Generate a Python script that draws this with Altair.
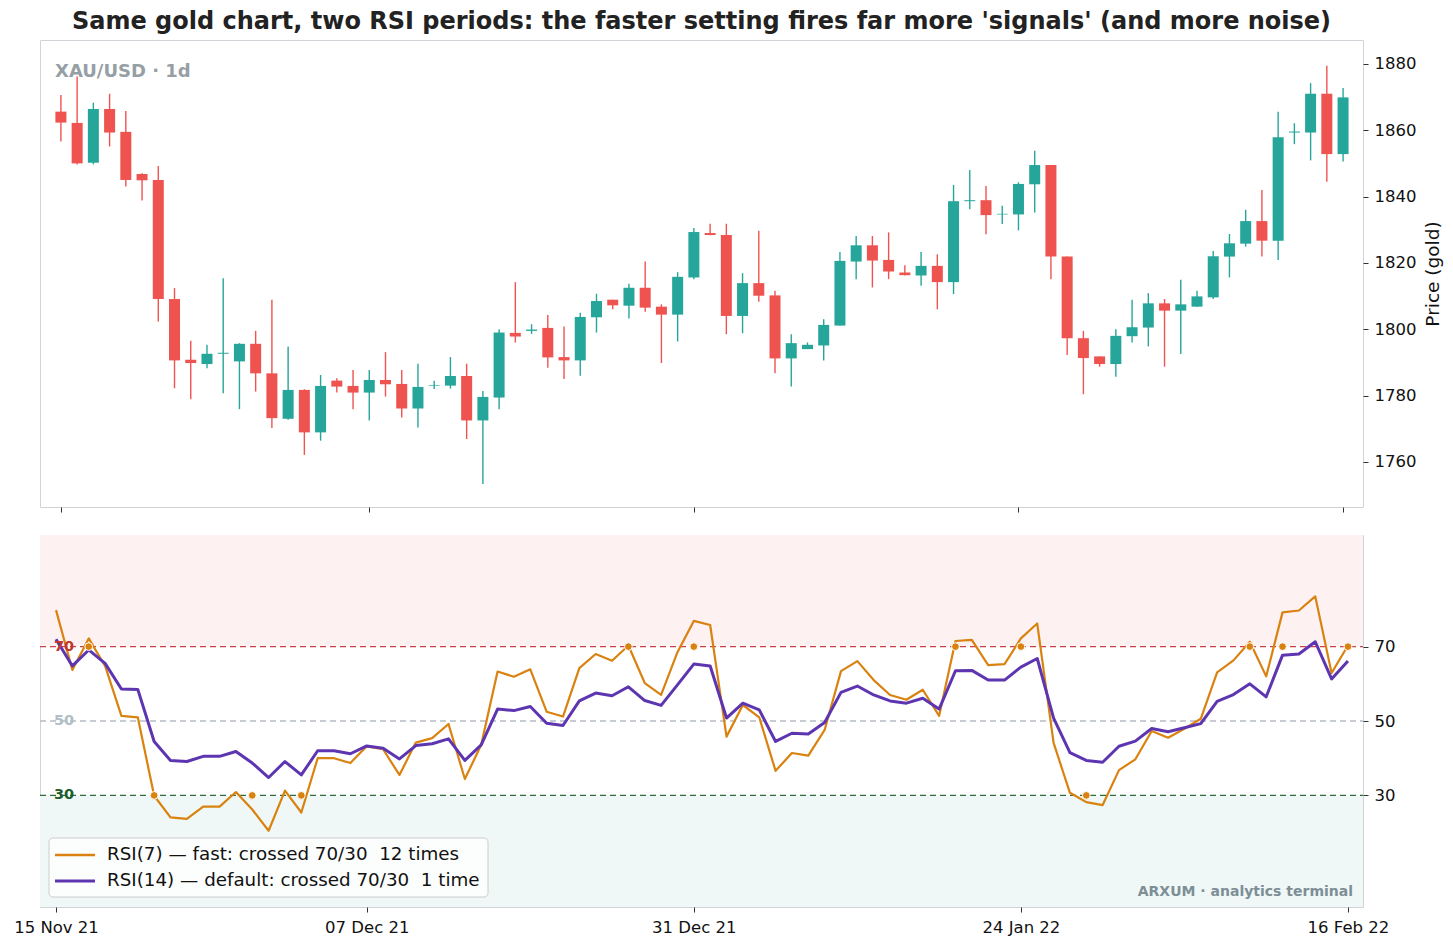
import altair as alt
import pandas as pd

# ---------------- data ----------------
opens = [1865.6, 1862.2, 1850.2, 1866.4, 1859.5, 1846.8, 1845.0, 1809.1, 1790.8, 1789.5,
         1792.6, 1790.3, 1795.6, 1786.7, 1773.0, 1781.7, 1768.9, 1784.5, 1782.9, 1780.9,
         1784.7, 1783.5, 1776.1, 1783.0, 1783.0, 1785.9, 1772.5, 1779.4, 1798.9, 1799.5,
         1800.4, 1791.6, 1790.6, 1803.6, 1808.9, 1807.1, 1812.5, 1806.8, 1804.4, 1815.6,
         1829.0, 1828.4, 1804.0, 1813.9, 1810.2, 1791.2, 1794.0, 1795.1, 1801.1, 1820.4,
         1825.3, 1820.9, 1817.1, 1816.2, 1819.1, 1814.2, 1838.6, 1838.9, 1834.6, 1834.6,
         1843.7, 1849.5, 1821.9, 1797.3, 1791.8, 1789.5, 1797.9, 1800.5, 1807.8, 1805.6,
         1806.8, 1809.6, 1821.9, 1825.8, 1832.6, 1826.7, 1859.3, 1859.3, 1871.0, 1852.8]
highs = [1870.6, 1876.2, 1868.3, 1871.0, 1865.8, 1847.0, 1849.2, 1812.4, 1796.5, 1795.3,
         1815.4, 1795.8, 1799.5, 1808.9, 1794.8, 1781.9, 1786.2, 1785.2, 1787.7, 1787.7,
         1793.1, 1787.7, 1789.6, 1784.5, 1791.6, 1789.6, 1781.4, 1800.0, 1814.2, 1801.5,
         1804.3, 1800.8, 1805.0, 1810.7, 1808.9, 1813.7, 1820.4, 1807.5, 1817.2, 1830.5,
         1831.8, 1831.8, 1816.9, 1829.7, 1811.6, 1798.5, 1796.0, 1803.0, 1823.3, 1828.1,
         1828.1, 1829.2, 1819.3, 1823.3, 1822.6, 1843.5, 1848.0, 1843.2, 1837.2, 1844.3,
         1853.8, 1849.5, 1821.9, 1799.5, 1791.8, 1800.0, 1808.9, 1810.9, 1809.1, 1814.9,
         1811.6, 1823.6, 1828.7, 1836.0, 1842.0, 1865.6, 1862.1, 1874.2, 1879.4, 1872.7]
lows = [1856.6, 1849.7, 1849.7, 1855.1, 1843.0, 1838.8, 1802.3, 1782.2, 1778.9, 1788.2,
        1780.7, 1775.9, 1781.2, 1770.2, 1772.7, 1762.1, 1766.4, 1780.9, 1775.9, 1772.5,
        1779.7, 1773.4, 1770.4, 1782.0, 1782.1, 1766.9, 1753.3, 1775.9, 1796.0, 1798.6,
        1788.4, 1785.0, 1786.0, 1799.0, 1806.0, 1803.2, 1805.3, 1789.8, 1796.3, 1815.1,
        1828.3, 1798.5, 1798.8, 1808.3, 1786.7, 1782.7, 1794.0, 1790.6, 1801.1, 1815.1,
        1812.6, 1815.1, 1816.2, 1813.1, 1806.0, 1810.6, 1836.2, 1828.6, 1831.7, 1829.8,
        1835.2, 1815.1, 1792.2, 1780.4, 1788.7, 1785.7, 1796.0, 1794.8, 1788.7, 1792.5,
        1806.8, 1809.1, 1815.6, 1824.9, 1821.9, 1820.9, 1855.8, 1850.9, 1844.5, 1850.6]
closes = [1862.3, 1850.0, 1866.4, 1859.3, 1845.0, 1844.9, 1809.1, 1790.6, 1789.8, 1792.6,
          1792.9, 1795.6, 1786.7, 1773.2, 1781.7, 1768.9, 1782.9, 1782.7, 1780.9, 1784.7,
          1783.4, 1776.1, 1782.6, 1783.2, 1785.9, 1772.5, 1779.6, 1799.0, 1797.8, 1799.9,
          1791.5, 1790.6, 1803.7, 1808.5, 1807.2, 1812.5, 1806.5, 1804.4, 1815.8, 1829.3,
          1828.4, 1804.0, 1813.9, 1810.1, 1791.2, 1795.8, 1795.3, 1801.3, 1820.6, 1825.3,
          1820.7, 1817.4, 1816.3, 1819.1, 1814.2, 1838.6, 1838.9, 1834.4, 1834.8, 1843.8,
          1849.5, 1821.9, 1797.3, 1791.3, 1789.5, 1798.0, 1800.6, 1807.8, 1805.6, 1807.5,
          1809.9, 1822.0, 1825.9, 1832.6, 1826.7, 1857.9, 1859.6, 1871.0, 1852.8, 1869.9]

rsi7 = [79.8, 63.7, 72.2, 64.8, 51.4, 51.0, 29.9, 24.1, 23.7, 27.0,
        27.0, 30.9, 26.2, 20.5, 31.3, 25.4, 40.0, 40.0, 38.7, 43.2,
        42.4, 35.5, 44.2, 45.4, 49.2, 34.4, 43.6, 63.3, 61.9, 63.9,
        52.5, 51.2, 64.2, 68.0, 66.2, 70.3, 60.2, 57.0, 68.5, 76.9,
        75.8, 45.8, 54.3, 51.0, 36.6, 41.4, 40.7, 47.6, 63.4, 66.1,
        61.0, 57.0, 55.7, 58.4, 51.4, 71.5, 71.8, 65.0, 65.3, 72.2,
        76.2, 44.1, 30.7, 28.2, 27.4, 36.8, 39.7, 47.3, 45.5, 47.9,
        50.6, 63.1, 66.3, 71.3, 62.0, 79.2, 79.7, 83.5, 62.9, 70.3]
rsi14 = [72.0, 64.8, 69.1, 65.5, 58.6, 58.5, 44.5, 39.4, 39.1, 40.5,
         40.5, 41.8, 38.7, 34.8, 39.1, 35.5, 42.0, 42.0, 41.2, 43.3,
         42.7, 39.8, 43.4, 43.9, 45.2, 39.4, 43.6, 53.2, 52.8, 53.9,
         49.4, 48.8, 55.4, 57.5, 56.8, 59.2, 55.5, 54.2, 59.7, 65.3,
         64.8, 50.8, 54.8, 53.0, 44.5, 46.7, 46.5, 49.6, 57.7, 59.4,
         57.0, 55.4, 54.8, 56.1, 53.2, 63.5, 63.6, 61.0, 61.0, 64.5,
         66.8, 50.8, 41.5, 39.4, 38.9, 43.2, 44.6, 48.0, 47.1, 48.2,
         49.3, 55.3, 57.1, 60.0, 56.5, 67.7, 68.0, 71.3, 61.3, 66.1]

signal_idx = [2, 6, 12, 15, 35, 39, 55, 59, 63, 73, 75, 79]
signal_lvl = [70, 30, 30, 30, 70, 70, 70, 70, 30, 70, 70, 70]

tick_idx = [0, 19, 39, 59, 79]
tick_labels = ["15 Nov 21", "07 Dec 21", "31 Dec 21", "24 Jan 22", "16 Feb 22"]

levels = [70, 50, 30]
level_colors = ["#c8424a", "#b4bcc2", "#2e6b38"]
level_text_colors = ["#c0392b", "#b0bec5", "#1e5e2a"]

LBL7 = "RSI(7) \u2014 fast: crossed 70/30\u00a0 12 times"
LBL14 = "RSI(14) \u2014 default: crossed 70/30\u00a0 1 time"

UP, DOWN = "#26a69a", "#ef5350"
ORANGE, PURPLE = "#d9820f", "#5e35b1"
FONT = "DejaVu Sans"

W = 1323
H_TOP, H_BOT = 467, 372
TICK_FS = 16.5

# ---------------- tables ----------------
n = len(opens)
candles = pd.DataFrame({
    "i": list(range(n)), "open": opens, "high": highs, "low": lows, "close": closes,
})
candles["dir"] = ["up" if c >= o else "down" for o, c in zip(opens, closes)]

rsi = pd.concat([
    pd.DataFrame({"i": list(range(n)), "v": rsi7, "s": LBL7}),
    pd.DataFrame({"i": list(range(n)), "v": rsi14, "s": LBL14}),
])
sig = pd.DataFrame({"i": signal_idx, "v": signal_lvl})
lev = pd.DataFrame({"v": levels, "c": level_colors, "tc": level_text_colors,
                    "t": [str(v) for v in levels]})

xdom = [-0.98, 79.92]
label_expr = " : ".join(
    f"datum.value == {i} ? '{t}'" for i, t in zip(tick_idx, tick_labels)
) + " : ''"

x_top = alt.X("i:Q", scale=alt.Scale(domain=xdom, nice=False, zero=False),
              axis=alt.Axis(values=tick_idx, labels=False, title=None, grid=False,
                            domain=False, tickSize=5, tickColor="#333"))
x_bot = alt.X("i:Q", scale=alt.Scale(domain=xdom, nice=False, zero=False),
              axis=alt.Axis(values=tick_idx, labelExpr=label_expr, title=None, grid=False,
                            domain=False, tickSize=5, tickColor="#333", labelFlush=False,
                            labelOverlap=False, labelPadding=7, labelFontSize=TICK_FS,
                            labelColor="#111"))

ydom_top = [1746.4, 1887.2]
candle_color = alt.Color("dir:N", scale=alt.Scale(domain=["up", "down"], range=[UP, DOWN]),
                         legend=None)

wicks = alt.Chart(candles).mark_rule(strokeWidth=1.4).encode(
    x=x_top,
    y=alt.Y("low:Q", scale=alt.Scale(domain=ydom_top, nice=False, zero=False),
            axis=alt.Axis(orient="right", values=[1760, 1780, 1800, 1820, 1840, 1860, 1880],
                          format="d",
                          title="Price (gold)", titleAngle=270, titleBaseline="top",
                          titleFontSize=18.5, titleFontWeight="normal", titlePadding=8,
                          titleColor="#111",
                          grid=False, domain=False, tickSize=5, tickColor="#333",
                          labelFontSize=TICK_FS, labelPadding=6, labelColor="#111")),
    y2="high:Q",
    color=candle_color,
)
bodies = alt.Chart(candles).mark_bar(size=11).encode(
    x=x_top,
    y="open:Q",
    y2="close:Q",
    color=candle_color,
)
xau = alt.Chart(pd.DataFrame({"t": ["XAU/USD \u00b7 1d"]})).mark_text(
    align="left", baseline="middle", fontSize=18, fontWeight="bold", color="#969fa6", font=FONT
).encode(x=alt.value(15), y=alt.value(32), text="t:N")

top = alt.layer(wicks, bodies, xau).properties(
    width=W, height=H_TOP,
    title=alt.TitleParams(
        "Same gold chart, two RSI periods: the faster setting fires far more 'signals' (and more noise)",
        anchor="middle", frame="group", fontSize=24, fontWeight="bold", color="#222",
        font=FONT, offset=6),
)

# ---------------- RSI panel ----------------
ysc = alt.Scale(domain=[0, 100], nice=False, zero=False)
y_bot_axis = alt.Axis(orient="right", values=[30, 50, 70], title=None, grid=False, domain=False,
                      tickSize=5, tickColor="#333", labelFontSize=TICK_FS, labelPadding=6,
                      labelColor="#111")

band_hi = alt.Chart(pd.DataFrame({"lo": [70], "hi": [100]})).mark_rect(color="#fdf1f2").encode(
    x=alt.value(0), x2=alt.value(W), y=alt.Y("lo:Q", scale=ysc, axis=y_bot_axis), y2="hi:Q")
band_lo = alt.Chart(pd.DataFrame({"lo": [0], "hi": [30]})).mark_rect(color="#eff8f6").encode(
    x=alt.value(0), x2=alt.value(W), y=alt.Y("lo:Q", scale=ysc), y2="hi:Q")

rules = alt.Chart(lev).mark_rule(strokeDash=[6, 4], strokeWidth=1.4).encode(
    x=alt.value(0), x2=alt.value(W), y=alt.Y("v:Q", scale=ysc),
    color=alt.Color("c:N", scale=None, legend=None))

lines = alt.Chart(rsi).mark_line(strokeJoin="round").encode(
    x=x_bot,
    y=alt.Y("v:Q", scale=ysc),
    stroke=alt.Stroke("s:N", scale=alt.Scale(domain=[LBL7, LBL14], range=[ORANGE, PURPLE]),
                      legend=None),
    strokeWidth=alt.StrokeWidth("s:N", scale=alt.Scale(domain=[LBL7, LBL14], range=[2.2, 3.0]),
                                legend=None),
)

dots = alt.Chart(sig).mark_circle(size=60, color=ORANGE, opacity=1, stroke="white",
                                  strokeWidth=1).encode(
    x=alt.X("i:Q", scale=alt.Scale(domain=xdom, nice=False, zero=False)),
    y=alt.Y("v:Q", scale=ysc))

lev_text = alt.Chart(lev).mark_text(align="left", baseline="middle", fontSize=14.5,
                                    fontWeight="bold", font=FONT).encode(
    x=alt.value(14), y=alt.Y("v:Q", scale=ysc), text="t:N",
    color=alt.Color("tc:N", scale=None, legend=None))

mark = alt.Chart(pd.DataFrame({"t": ["ARXUM \u00b7 analytics terminal"]})).mark_text(
    align="right", baseline="middle", fontSize=14, fontWeight="bold", color="#7d8e97", font=FONT
).encode(x=alt.value(W - 10), y=alt.value(357), text="t:N")

# legend drawn inside the RSI panel (bottom-left)
LEG_X, LEG_Y, LEG_W, LEG_H, ROW = 9, 303, 439, 59, 26
one = pd.DataFrame({"k": [0]})
leg_box = alt.Chart(one).mark_rect(fill="white", fillOpacity=0.8, stroke="#cccccc",
                                   strokeWidth=1, cornerRadius=4).encode(
    x=alt.value(LEG_X), x2=alt.value(LEG_X + LEG_W),
    y=alt.value(LEG_Y), y2=alt.value(LEG_Y + LEG_H))
leg_layers = [leg_box]
for r, (lbl, col, sw) in enumerate([(LBL7, ORANGE, 2.4), (LBL14, PURPLE, 3.0)]):
    yy = LEG_Y + 17 + r * ROW
    leg_layers.append(alt.Chart(one).mark_rule(color=col, strokeWidth=sw).encode(
        x=alt.value(LEG_X + 6), x2=alt.value(LEG_X + 46), y=alt.value(yy)))
    leg_layers.append(alt.Chart(pd.DataFrame({"t": [lbl]})).mark_text(
        align="left", baseline="middle", fontSize=18.3, color="#111", font=FONT).encode(
        x=alt.value(LEG_X + 58), y=alt.value(yy), text="t:N"))

bottom = alt.layer(band_hi, band_lo, rules, lines, dots, lev_text, mark, *leg_layers).properties(
    width=W, height=H_BOT)

chart = alt.vconcat(top, bottom, spacing=21).properties(
    padding={"left": 13, "top": 9, "right": 5, "bottom": 5},
    background="white",
).configure(font=FONT).configure_view(stroke="#d0d4d8", strokeWidth=1).configure_axis(
    labelFont=FONT, titleFont=FONT)

chart.save("out.html", embed_options={"renderer": "svg", "actions": False})
